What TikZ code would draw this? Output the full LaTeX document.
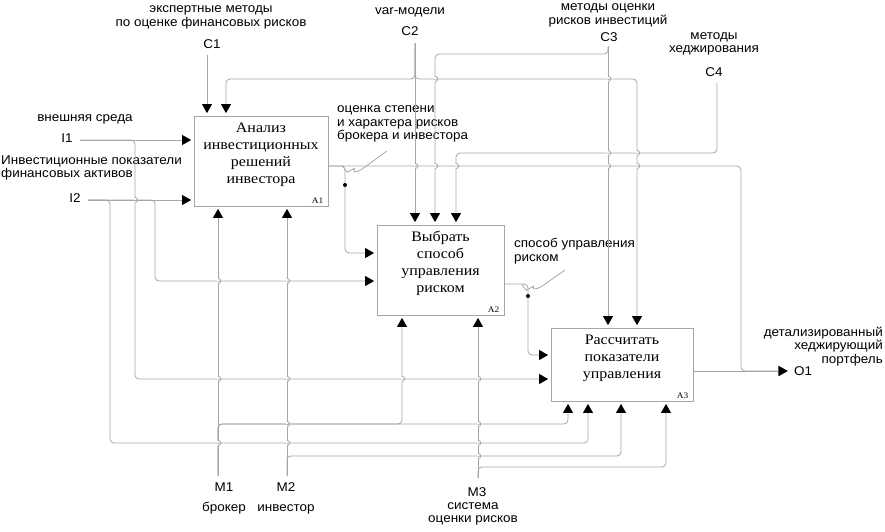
\documentclass[tikz,border=0pt]{standalone}
\usepackage{fontspec}
\setmainfont{Liberation Sans}[FakeStretch=1.06]
\newfontfamily\boxfont{Liberation Serif}[FakeStretch=1.1]
\usetikzlibrary{arrows.meta}

\tikzset{
  func/.style={draw=black!35, line width=0.8pt, inner sep=0pt},
  wire/.style={draw=black!35, line width=0.8pt, rounded corners=4pt},
  feed/.style={wire, -{Triangle[length=9pt,width=10pt,color=black]}, shorten >=2.5pt},
  lbl/.style={inner sep=0pt, align=center, font=\fontsize{12.7}{13.7}\selectfont},
  tag/.style={lbl, text height=9pt, text depth=2.7pt},
  ftext/.style={inner sep=0pt, align=center, font=\boxfont\fontsize{14.5}{17}\selectfont},
  fnum/.style={inner sep=0pt, font=\boxfont\fontsize{8.5}{9}\selectfont}
}

% bump on a vertical wire where a horizontal one crosses it
\newcommand{\hop}[2]{%
  \fill[white] (#1-1.2,#2-2.5) rectangle (#1+1.2,#2-0.5);
  \fill[white] (#1-1.2,#2+0.5) rectangle (#1+1.2,#2+2.5);
  \draw[wire] (#1,#2-2.6) .. controls (#1+3.5,#2-2.6) and (#1+3.5,#2+2.6) .. (#1,#2+2.6);}

\begin{document}
\begin{tikzpicture}[x=1pt, y=-1pt]
	\useasboundingbox (0,0) rectangle (885,531);

	% functions
	\node[func, minimum width=134pt, minimum height=90pt] (a1) at (261,161) {};
	\node[func, minimum width=127pt, minimum height=90pt] (a2) at (440.5,270) {};
	\node[func, minimum width=142pt, minimum height=73pt] (a3) at (622,364.5) {};
	\node[ftext] (t1) at (261,155) {Анализ\\инвестиционных\\решений\\инвестора};
	\node[ftext] (t2) at (440.5,263) {Выбрать\\способ\\управления\\риском};
	\node[ftext] (t3) at (622,358.5) {Рассчитать\\показатели\\управления};
	\node[fnum, anchor=south east] (n1) at ([xshift=-5pt,yshift=3pt]a1.south east) {A1};
	\node[fnum, anchor=south east] (n2) at ([xshift=-5pt,yshift=3pt]a2.south east) {A2};
	\node[fnum, anchor=south east] (n3) at ([xshift=-5pt,yshift=3pt]a3.south east) {A3};

	% boundary labels
	\node[lbl] (lc1) at (211,17.5) {экспертные методы\\по оценке финансовых рисков};
	\node[tag] (c1) at (212,45) {C1};
	\node[tag] (lc2) at (410,11) {var-модели};
	\node[tag] (c2) at (410,32) {C2};
	\node[lbl] (lc3) at (608,15.5) {методы оценки\\рисков инвестиций};
	\node[tag] (c3) at (609,38) {C3};
	\node[lbl] (lc4) at (714,44) {методы\\хеджирования};
	\node[tag] (c4) at (714,73) {C4};
	\node[tag] (li1) at (85,118) {внешняя среда};
	\node[tag] (i1) at (67,139) {I1};
	\node[lbl, align=left, anchor=west] (li2) at (1,168) {Инвестиционные показатели\\финансовых активов};
	\node[tag] (i2) at (75,199) {I2};
	\node[lbl, align=left, anchor=west] (lo12) at (337,124) {оценка степени\\и характера рисков\\брокера и инвестора};
	\node[lbl, align=left, anchor=west] (lo2) at (514,251) {способ управления\\риском};
	\node[lbl, align=right, anchor=east] (lo1) at (883,346.5) {детализированный\\хеджирующий\\портфель};
	\node[tag] (o1) at (803,372) {O1};
	\node[tag] (m1) at (224,488) {M1};
	\node[tag] (lm1) at (224,508) {брокер};
	\node[tag] (m2) at (286,488) {M2};
	\node[tag] (lm2) at (286,508) {инвестор};
	\node[tag] (m3) at (477,493) {M3};
	\node[lbl] (lm3) at (473,514) {система\\оценки рисков};

	% wire ends and bends
	\coordinate (c1e) at (207,55);
	\coordinate (c2e) at (415,43);
	\coordinate (c2j) at (415,79);
	\coordinate (c2l) at (226,79);
	\coordinate (c2r) at (637,79);
	\coordinate (c3e) at (608,46);
	\coordinate (c3j) at (608,54);
	\coordinate (c3l) at (435,54);
	\coordinate (c4e) at (717,83);
	\coordinate (c4b) at (717,153);
	\coordinate (c4l) at (456,153);
	\coordinate (i1e) at (80,140);
	\coordinate (i1b) at (135,140);
	\coordinate (i1d) at (135,379);
	\coordinate (i2e) at (88,200);
	\coordinate (i2a) at (110,200);
	\coordinate (i2d) at (110,443);
	\coordinate (i2x) at (588,443);
	\coordinate (i2b) at (155,200);
	\coordinate (i2c) at (155,281);
	\coordinate (m1e) at (218,476);
	\coordinate (m1b) at (218,424);
	\coordinate (m1x) at (402,424);
	\coordinate (m1y) at (568,424);
	\coordinate (m2e) at (287,476);
	\coordinate (m2b) at (287,456);
	\coordinate (m2x) at (621,456);
	\coordinate (m3e) at (478,478);
	\coordinate (m3b) at (478,467);
	\coordinate (m3x) at (666,467);
	\coordinate (a1o) at (328,166);
	\coordinate (o12b) at (345,166);
	\coordinate (o12d) at (345,253);
	\coordinate (o1r) at (741,166);
	\coordinate (o1d) at (741,371);
	\coordinate (a2o) at (504,284);
	\coordinate (o2b) at (528,284);
	\coordinate (o2d) at (528,355);
	\coordinate (a3o) at (693,371);
	\coordinate (o1e) at (790,371);

	% controls
	\draw[feed] (c1e) -- (c1e |- a1.north);
	\draw[feed] (c2e) -- (c2e |- a2.north);
	\draw[feed] (c2e) -- (c2j) -- (c2l) -- (c2l |- a1.north);
	\draw[feed] (c2e) -- (c2j) -- (c2r) -- (c2r |- a3.north);
	\draw[feed] (c3e) -- (c3e |- a3.north);
	\draw[feed] (c3e) -- (c3j) -- (c3l) -- (c3l |- a2.north);
	\draw[feed] (c4e) -- (c4b) -- (c4l) -- (c4l |- a2.north);

	% inputs
	\draw[feed] (i1e) -- (i1e -| a1.west);
	\draw[feed] (i1e) -- (i1b) -- (i1d) -- (i1d -| a3.west);
	\draw[feed] (i2e) -- (i2e -| a1.west);
	\draw[feed] (i2e) -- (i2a) -- (i2d) -- (i2x) -- (i2x |- a3.south);
	\draw[feed] (i2e) -- (i2b) -- (i2c) -- (i2c -| a2.west);

	% mechanisms
	\draw[feed] (m1e) -- (m1e |- a1.south);
	\draw[feed] (m1e) -- (m1b) -- (m1x) -- (m1x |- a2.south);
	\draw[feed] (m1e) -- (m1b) -- (m1y) -- (m1y |- a3.south);
	\draw[feed] (m2e) -- (m2e |- a1.south);
	\draw[feed] (m2e) -- (m2b) -- (m2x) -- (m2x |- a3.south);
	\draw[feed] (m3e) -- (m3e |- a2.south);
	\draw[feed] (m3e) -- (m3b) -- (m3x) -- (m3x |- a3.south);

	% outputs
	\draw[feed] (a1o) -- (o12b) -- (o12d) -- (o12d -| a2.west);
	\draw[feed] (a1o) -- (o1r) -- (o1d) -- (o1e);
	\draw[feed] (a2o) -- (o2b) -- (o2d) -- (o2d -| a3.west);
	\draw[feed] (a3o) -- (o1e);

	% squiggles
	\draw[wire] (343,166) .. controls (345,171) and (348,172) .. (351,170)
		.. controls (353,169) and (355,172) .. (358,172) -- (387,151);
	\fill (345,185) circle (2pt);
	\draw[wire] (522,284) .. controls (524,289) and (527,290) .. (530,288)
		.. controls (532,287) and (534,289) .. (538,289) -- (565,270);
	\fill (528,296) circle (2pt);

	% crossings
	\foreach \x/\y in {435/79, 608/79, 608/153, 637/153, 415/166, 435/166, 456/166,
		608/166, 637/166, 135/200, 218/281, 287/281, 218/379, 287/379, 402/379,
		478/379, 287/424, 478/424, 218/443, 287/443, 478/443, 478/456}
		{\hop{\x}{\y}}
\end{tikzpicture}
\end{document}
